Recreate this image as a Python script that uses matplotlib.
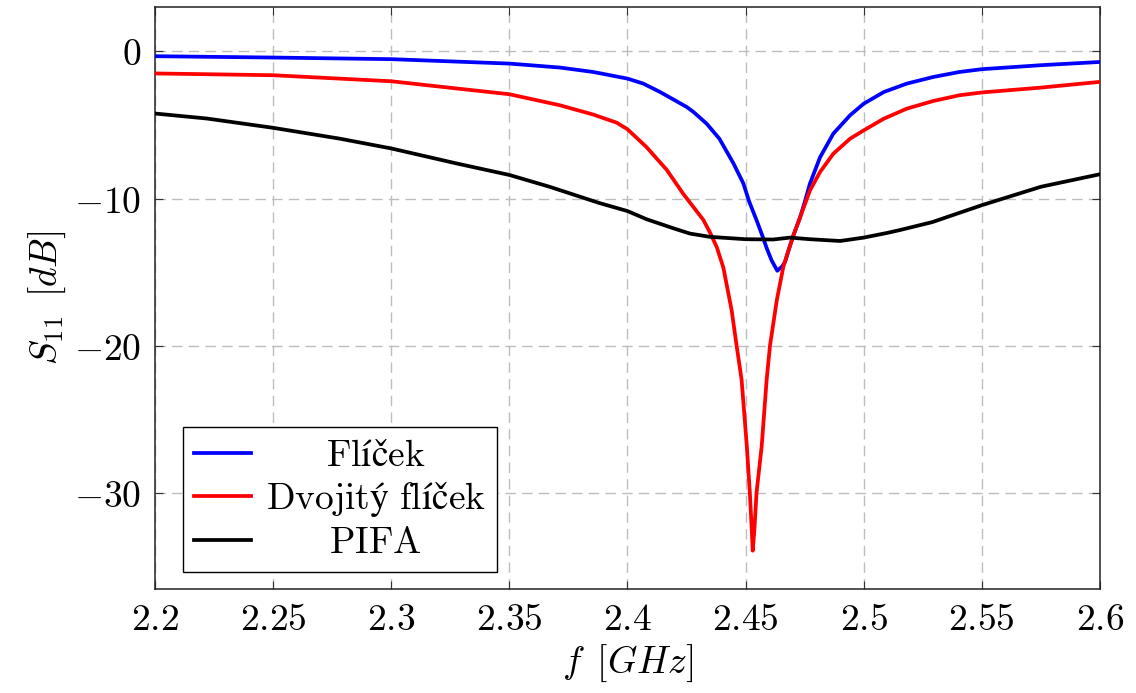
import matplotlib
matplotlib.use("Agg")
import matplotlib.pyplot as plt
from matplotlib.ticker import FixedLocator, FuncFormatter

# ---- data ----
freq_flicek = [2.20, 2.25, 2.30, 2.35, 2.3714, 2.3855, 2.40, 2.4067, 2.4138, 2.4208,
               2.4251, 2.4279, 2.4335, 2.4389, 2.4448, 2.449, 2.4515, 2.4547, 2.4568,
               2.459, 2.461, 2.4634, 2.4655, 2.4667, 2.468, 2.470, 2.473, 2.4751,
               2.4772, 2.4815, 2.4871, 2.4942, 2.50, 2.5085, 2.5182, 2.5294, 2.5405,
               2.55, 2.575, 2.60]
s11_flicek = [-0.34, -0.43, -0.54, -0.84, -1.11, -1.41, -1.86, -2.2, -2.77, -3.4,
              -3.79, -4.12, -4.92, -5.94, -7.6, -8.96, -10.2, -11.5, -12.4,
              -13.4, -14.2, -14.9, -14.6, -14.3, -13.6, -12.6, -11.3, -10.2,
              -9.0, -7.2, -5.6, -4.35, -3.56, -2.77, -2.2, -1.75, -1.41,
              -1.22, -0.95, -0.73]

freq_dvoj = [2.20, 2.25, 2.30, 2.3277, 2.35, 2.3714, 2.3855, 2.3954, 2.40, 2.408,
             2.4166, 2.4236, 2.4321, 2.4349, 2.4378, 2.4406, 2.4441, 2.4462, 2.4483,
             2.4505, 2.4518, 2.4526, 2.453, 2.4537, 2.4546, 2.4568, 2.4589, 2.4603,
             2.4632, 2.466, 2.470, 2.473, 2.4772, 2.4815, 2.4871, 2.4942, 2.50,
             2.5085, 2.5182, 2.5294, 2.5405, 2.55, 2.575, 2.60]
s11_dvoj = [-1.51, -1.63, -2.04, -2.53, -2.92, -3.67, -4.3, -4.85, -5.3, -6.5,
            -8.05, -9.68, -11.45, -12.3, -13.3, -14.7, -17.6, -20.0, -22.3,
            -26.8, -30.0, -32.5, -33.9, -32.5, -30.0, -26.8, -22.3, -20.0,
            -16.9, -14.6, -12.6, -11.3, -9.46, -8.2, -6.96, -5.94, -5.37,
            -4.58, -3.9, -3.38, -2.99, -2.8, -2.47, -2.08]

freq_pifa = [2.20, 2.222, 2.25, 2.278, 2.30, 2.3277, 2.35, 2.367, 2.388,
             2.40, 2.408, 2.42, 2.4265, 2.4349, 2.45, 2.4616, 2.4688, 2.4772, 2.49,
             2.50, 2.51, 2.515, 2.529, 2.55, 2.575, 2.60]
s11_pifa = [-4.23, -4.57, -5.2, -5.93, -6.6, -7.62, -8.4, -9.2, -10.3,
            -10.85, -11.4, -12.05, -12.38, -12.6, -12.76, -12.78, -12.65, -12.76, -12.88,
            -12.65, -12.33, -12.15, -11.6, -10.45, -9.2, -8.35]

series_labels = [r"$\mathrm{Flíček}$", r"$\mathrm{Dvojitý\ flíček}$", r"$\mathrm{PIFA}$"]
x_ticks = [2.2, 2.25, 2.3, 2.35, 2.4, 2.45, 2.5, 2.55, 2.6]
y_ticks = [-30, -20, -10, 0]

plt.rcParams["mathtext.fontset"] = "cm"
plt.rcParams["font.family"] = ["DejaVu Serif"]
plt.rcParams["lines.scale_dashes"] = False

FS = 27
fig = plt.figure(figsize=(11.36, 6.93), dpi=100)
ax = fig.add_axes([155/1136, 1-589/693, 945/1136, 582/693])

lw = 2.7
ax.plot(freq_flicek, s11_flicek, color="#0000ff", lw=lw, label=series_labels[0], zorder=3)
ax.plot(freq_dvoj, s11_dvoj, color="#ff0000", lw=lw, label=series_labels[1], zorder=3)
ax.plot(freq_pifa, s11_pifa, color="#000000", lw=lw, label=series_labels[2], zorder=3)

ax.set_xlim(2.2, 2.6)
ax.set_ylim(-36.5, 3.0)
ax.xaxis.set_major_locator(FixedLocator(x_ticks))
ax.yaxis.set_major_locator(FixedLocator(y_ticks))
ax.xaxis.set_major_formatter(FuncFormatter(lambda v, p: r"$%g$" % v))
ax.yaxis.set_major_formatter(FuncFormatter(lambda v, p: r"$%g$" % v))
ax.tick_params(direction="in", length=6, width=0.8, color="#333333",
               top=True, right=True, labelsize=FS)
ax.tick_params(axis="y", pad=10)
ax.tick_params(axis="x", pad=9)

ax.grid(True, color="#bdbdbd", lw=1.0, linestyle=(0, (7.5, 4.5)), zorder=0)
ax.set_axisbelow(True)
for s in ax.spines.values():
    s.set_linewidth(1.1)
    s.set_color("#222222")

ax.set_xlabel(r"$f\ \,[GHz]$", fontsize=FS, labelpad=4)
ax.set_ylabel(r"$S_{11}\ \,[dB]$", fontsize=FS, labelpad=4)

leg = ax.legend(loc="lower left", bbox_to_anchor=(28/945, 17/582), borderaxespad=0,
                fontsize=FS, fancybox=False, framealpha=1, edgecolor="#000000",
                handlelength=1.5, handletextpad=0.4, labelspacing=0.15,
                borderpad=0.3)
leg.get_frame().set_linewidth(1.0)

# centre the legend entries as in the reference
fig.canvas.draw()
texts = leg.get_texts()
widths = [t.get_window_extent().width for t in texts]
maxw = max(widths)
for t, w in zip(texts, widths):
    t.set_position(((maxw - w) / 2, 0))

fig.savefig("out.png", dpi=100)
